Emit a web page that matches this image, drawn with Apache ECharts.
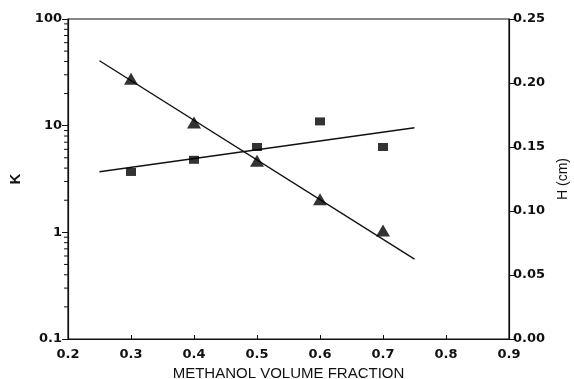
<!DOCTYPE html>
<html><head><meta charset="utf-8">
<script src="https://cdn.jsdelivr.net/npm/echarts@6/dist/echarts.min.js"></script>
<style>html,body{margin:0;padding:0;background:#fff}#c{width:574px;height:379px}</style>
</head><body><div id="c"></div>
<script>
// Data
const fractions = [0.3, 0.4, 0.5, 0.6, 0.7];
const kValues = [27.5, 10.7, 4.7, 2.04, 1.04];          // triangles, left log axis
const hValues = [0.1305, 0.140, 0.150, 0.170, 0.150];   // squares, right axis (cm)
const kFitX = [0.25, 0.75];
const kFitY = [40.6, 0.56];
const hFitX = [0.25, 0.75];
const hFitY = [0.1307, 0.165];
const kMinorTicks = [0.2,0.3,0.4,0.5,0.6,0.7,0.8,0.9,2,3,4,5,6,7,8,9,20,30,40,50,60,70,80,90];
const xTicks = ['0.2','0.3','0.4','0.5','0.6','0.7','0.8','0.9'];

const FONT = 'DejaVu Sans';
const tickLabel = {color:'#111', fontFamily:FONT, fontSize:13, fontWeight:'bold'};
const chart = echarts.init(document.getElementById('c'), null, {renderer:'canvas'});
chart.setOption({
  animation:false,
  backgroundColor:'#fff',
  grid:{left:68, right:65, top:19, bottom:40, show:true, borderColor:'#111', borderWidth:1.2,
    containLabel:false, outerBoundsMode:'none'},
  xAxis:{type:'value', min:0.2, max:0.9, interval:0.1,
    name:'METHANOL VOLUME FRACTION', nameLocation:'middle', nameGap:25,
    nameTextStyle:{color:'#111', fontFamily:'Liberation Sans', fontSize:15},
    axisLine:{lineStyle:{color:'#111', width:1.2}},
    axisTick:{inside:true, length:4, lineStyle:{color:'#111'}},
    axisLabel:Object.assign({margin:9, formatter:v=>xTicks[Math.round((v-0.2)*10)]}, tickLabel),
    splitLine:{show:false}},
  yAxis:[
    {type:'log', logBase:10, min:0.1, max:100, position:'left',
      name:'K', nameLocation:'middle', nameGap:45, nameRotate:90,
      nameTextStyle:{color:'#111', fontFamily:'Liberation Sans', fontSize:15, fontWeight:'bold'},
      axisLine:{show:true, lineStyle:{color:'#111', width:1.2}},
      axisTick:{show:true, inside:false, length:6, lineStyle:{color:'#111'}},
      axisLabel:Object.assign({margin:6, formatter:v=>String(+v.toPrecision(3))}, tickLabel),
      splitLine:{show:false}},
    {type:'value', min:0, max:0.25, interval:0.05, position:'right',
      name:'H (cm)', nameLocation:'middle', nameGap:47, nameRotate:90,
      nameTextStyle:{color:'#111', fontFamily:'Liberation Sans', fontSize:14},
      axisLine:{show:true, lineStyle:{color:'#111', width:1.2}},
      axisTick:{show:true, inside:false, length:5, lineStyle:{color:'#111'}},
      axisLabel:Object.assign({margin:4, formatter:v=>v.toFixed(2)}, tickLabel),
      splitLine:{show:false}}
  ],
  series:[
    {type:'line', yAxisIndex:0, data:kFitX.map((x,i)=>[x,kFitY[i]]), symbol:'none',
      lineStyle:{color:'#111', width:1.4}, z:2},
    {type:'line', yAxisIndex:1, data:hFitX.map((x,i)=>[x,hFitY[i]]), symbol:'none',
      lineStyle:{color:'#111', width:1.4}, z:2},
    {type:'scatter', yAxisIndex:0, data:fractions.map((x,i)=>[x,kValues[i]]),
      symbol:'triangle', symbolSize:[14,12], itemStyle:{color:'#000'}, z:3},
    {type:'scatter', yAxisIndex:1, data:fractions.map((x,i)=>[x,hValues[i]]),
      symbol:'rect', symbolSize:[10,8], itemStyle:{color:'#000'}, z:3},
    {type:'custom', yAxisIndex:0, data:kMinorTicks.map(v=>[0.2,v]), silent:true, clip:false,
      renderItem:function(params, api){
        const p = api.coord([api.value(0), api.value(1)]);
        return {type:'line', shape:{x1:p[0]-4, y1:p[1], x2:p[0], y2:p[1]},
          style:{stroke:'#111', lineWidth:1}};
      }}
  ]
});
</script></body></html>
